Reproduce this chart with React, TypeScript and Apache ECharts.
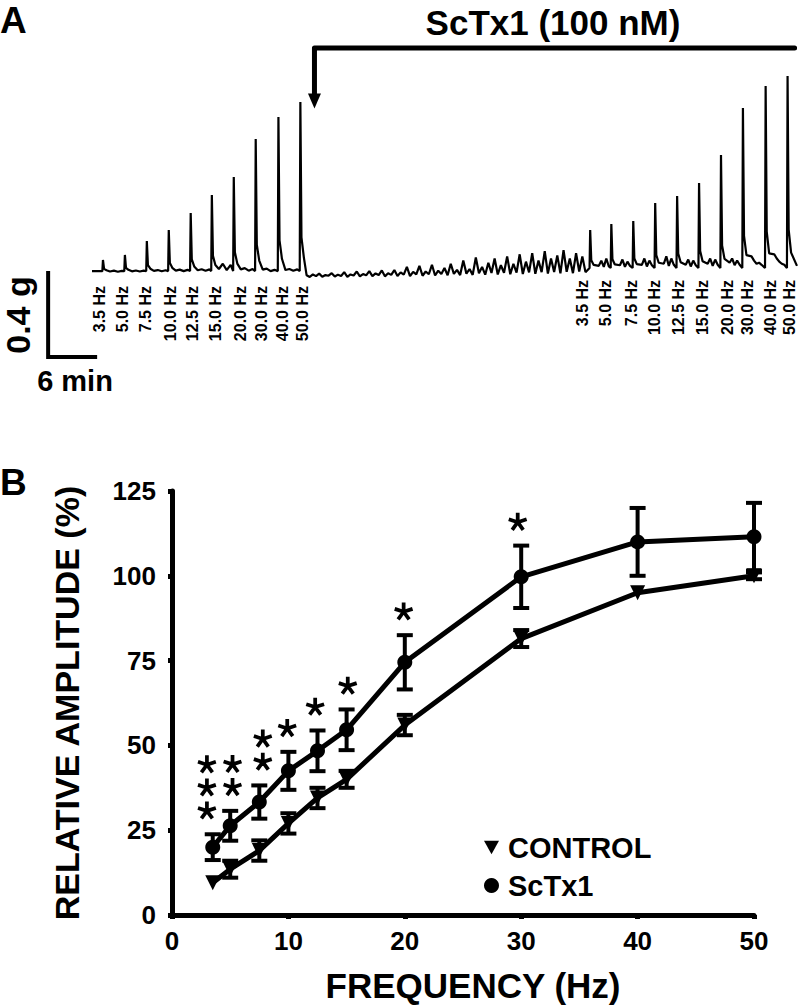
import React, { useEffect, useRef } from 'react';
import * as echarts from 'echarts';

const FONT = '"Liberation Sans", Arial, Helvetica, sans-serif';

// ---------- Panel B data ----------
const frequencies = [3.5, 5, 7.5, 10, 12.5, 15, 20, 30, 40, 50];
const controlMean = [9.5, 13.5, 19, 27, 34.5, 40, 56, 81.5, 95, 100];
const controlErr = [0, 2.5, 3, 3, 3, 2.5, 3, 2.5, 0, 1];
const sctxMean = [20, 26.3, 33.3, 42.5, 48.4, 54.6, 74.5, 99.7, 110, 111.5];
const sctxErr = [3.8, 4.4, 4.9, 5.6, 6, 6, 8, 9.2, 10, 10];
const starCounts = [3, 2, 2, 1, 1, 1, 1, 1, 0, 0];
const starHz = [3.0, 5.2, 7.8, 9.9, 12.3, 15.1, 19.9, 29.7, 40, 50];

// ---------- Panel A data (trace, minutes vs grams) ----------
const hzLabels = ['3.5 Hz', '5.0 Hz', '7.5 Hz', '10.0 Hz', '12.5 Hz', '15.0 Hz', '20.0 Hz', '30.0 Hz', '40.0 Hz', '50.0 Hz'];
const controlSpikeMin = [1.4, 4.2, 7.0, 9.8, 12.6, 15.3, 18.1, 20.9, 23.8, 26.6];
const controlSpikePeakG = [0.143, 0.167, 0.233, 0.286, 0.367, 0.452, 0.538, 0.719, 0.824, 0.895];
const toxinSpikeMin = [63.6, 66.3, 69.1, 71.9, 74.7, 77.5, 80.3, 83.1, 86.0, 88.8];
const toxinSpikePeakG = [0.286, 0.314, 0.329, 0.414, 0.448, 0.51, 0.643, 0.867, 0.971, 1.019];
const leftLabelMin = [1.02, 3.9, 6.89, 9.96, 12.89, 15.83, 18.9, 21.6, 24.38, 26.93];
const rightLabelMin = [62.6, 65.6, 68.9, 71.8, 74.9, 78.0, 81.1, 83.7, 86.6, 89.1];
const leftLabelTopG = 0.019;
const rightLabelTopG = 0.048;
const controlBaseG = 0.09;
const toxinBaseG = 0.105;
const leftNoiseG = [
  0.088, 0.092, 0.087, 0.091,
  0.089, 0.093, 0.088, 0.092,
  0.091, 0.095, 0.089, 0.094,
  0.092, 0.097, 0.09, 0.096,
  0.094, 0.099, 0.092, 0.098,
  0.1, 0.125, 0.095, 0.12,
  0.098, 0.104, 0.092, 0.1,
  0.097, 0.102, 0.09, 0.096,
  0.095, 0.1, 0.092, 0.098,
];
const washNoiseG = [
  0.07, 0.062, 0.074, 0.066, 0.078, 0.063, 0.071, 0.068, 0.08, 0.064,
  0.073, 0.067, 0.085, 0.063, 0.074, 0.069, 0.088, 0.065, 0.076, 0.07,
  0.09, 0.066, 0.079, 0.071, 0.093, 0.065, 0.08, 0.072, 0.095, 0.067,
  0.084, 0.073, 0.11, 0.066, 0.086, 0.074, 0.115, 0.068, 0.088, 0.075,
  0.12, 0.069, 0.092, 0.076, 0.105, 0.07, 0.125, 0.077, 0.096, 0.071,
  0.14, 0.078, 0.1, 0.072, 0.155, 0.08, 0.11, 0.073, 0.13, 0.081,
  0.15, 0.074, 0.118, 0.082, 0.16, 0.075, 0.125, 0.083, 0.17, 0.076,
  0.135, 0.084, 0.175, 0.077, 0.14, 0.085, 0.185, 0.078, 0.15, 0.086,
  0.165, 0.079, 0.19, 0.087, 0.15, 0.08, 0.175, 0.088, 0.16, 0.085,
];
const rightNoiseG = [
  0.115, 0.14, 0.11, 0.15, 0.112,
  0.118, 0.145, 0.11, 0.135, 0.115,
  0.12, 0.15, 0.112, 0.14, 0.118,
  0.125, 0.16, 0.115, 0.15, 0.12,
  0.12, 0.145, 0.112, 0.14, 0.118,
  0.125, 0.15, 0.115, 0.145, 0.12,
  0.13, 0.15, 0.118, 0.14, 0.12,
  0.16, 0.14, 0.125, 0.13, 0.12,
  0.17, 0.15, 0.135, 0.125, 0.12,
];
const traceEndMin = 90;
const washStartMin = 27.4;
const washStepMin = 0.4;
const drugOnsetMin = 28.4;
const drugEndMin = 89.7;
const bracketG = 1.152;
const arrowBaseG = 0.935;
const arrowCenterG = 0.9;
const scaleBarMin = 6;
const scaleBarG = 0.4;
const scaleOrigin = [-5.6, -0.319];

function addSpike(pts: number[][], t: number, b: number, p: number) {
  pts.push([t - 0.08, b]);
  pts.push([t, p]);
  pts.push([t + 0.14, b + (p - b) * 0.2]);
  pts.push([t + 0.45, b + (p - b) * 0.08]);
}

function buildTrace() {
  const pts: number[][] = [[0, controlBaseG]];
  controlSpikeMin.forEach((t, k) => {
    addSpike(pts, t, controlBaseG, controlSpikePeakG[k]);
    if (k < controlSpikeMin.length - 1) {
      for (let j = 0; j < 4; j++) pts.push([t + 0.9 + j * 0.5, leftNoiseG[k * 4 + j]]);
    }
  });
  washNoiseG.forEach((v, i) => pts.push([washStartMin + i * washStepMin, v]));
  toxinSpikeMin.forEach((t, k) => {
    addSpike(pts, t, toxinBaseG, toxinSpikePeakG[k]);
    if (k < toxinSpikeMin.length - 1) {
      for (let j = 0; j < 5; j++) pts.push([t + 1.1 + j * 0.32, rightNoiseG[k * 5 + j]]);
    }
  });
  pts.push([traceEndMin, toxinBaseG + 0.01]);
  return pts;
}

function asteriskPath() {
  const w = 0.2;
  let d = '';
  for (let k = 0; k < 5; k++) {
    const a = -Math.PI / 2 + (k * 2 * Math.PI) / 5;
    const ux = Math.cos(a);
    const uy = Math.sin(a);
    const px = -uy;
    const py = ux;
    const pts = [
      [px * w, py * w],
      [px * w + ux, py * w + uy],
      [-px * w + ux, -py * w + uy],
      [-px * w, -py * w],
    ];
    d += pts
      .map((p, i) => (i === 0 ? 'M' : 'L') + ((p[0] + 1) * 50).toFixed(2) + ' ' + ((p[1] + 1) * 50).toFixed(2))
      .join(' ') + ' Z ';
  }
  return 'path://' + d;
}

export default function App() {
  const ref = useRef<HTMLDivElement>(null);

  useEffect(() => {
    if (!ref.current) return;
    const chart = echarts.init(ref.current, undefined, { renderer: 'svg' });

    const starData: number[][] = [];
    frequencies.forEach((f, i) => {
      for (let k = 0; k < starCounts[i]; k++) {
        starData.push([starHz[i], sctxMean[i] + sctxErr[i] + 7 + 6.8 * k]);
      }
    });

    const errData = frequencies
      .map((f, i) => [f, controlMean[i] - controlErr[i], controlMean[i] + controlErr[i]])
      .concat(frequencies.map((f, i) => [f, sctxMean[i] - sctxErr[i], sctxMean[i] + sctxErr[i]]));

    const bold = { fontFamily: FONT, fontWeight: 'bold' as const, color: '#000' };

    const option: any = {
      animation: false,
      backgroundColor: '#fff',
      grid: [
        { left: 172, right: 46, top: 491, height: 424 },
        { left: 37.17, width: 759.8, top: 38, height: 336 },
      ],
      xAxis: [
        {
          gridIndex: 0,
          type: 'value',
          min: 0,
          max: 50,
          interval: 10,
          axisLine: { lineStyle: { color: '#000', width: 5, cap: 'round' } },
          axisTick: { show: true, length: 4, lineStyle: { color: '#000', width: 5 } },
          axisLabel: { ...bold, fontSize: 26, margin: 13 },
          splitLine: { show: false },
          name: 'FREQUENCY (Hz)',
          nameLocation: 'middle',
          nameGap: 53,
          nameTextStyle: { ...bold, fontSize: 35, padding: [0, 0, 0, 20] },
        },
        { gridIndex: 1, type: 'value', min: -7, max: 90, show: false },
      ],
      yAxis: [
        {
          gridIndex: 0,
          type: 'value',
          min: 0,
          max: 125,
          interval: 25,
          axisLine: { show: true, lineStyle: { color: '#000', width: 5, cap: 'round' } },
          axisTick: { show: true, length: 4, lineStyle: { color: '#000', width: 5 } },
          axisLabel: { ...bold, fontSize: 26, margin: 16 },
          splitLine: { show: false },
          name: 'RELATIVE AMPLITUDE (%)',
          nameLocation: 'middle',
          nameGap: 88,
          nameTextStyle: { ...bold, fontSize: 34 },
        },
        { gridIndex: 1, type: 'value', min: -0.4, max: 1.2, show: false },
      ],
      legend: {
        orient: 'vertical',
        left: 479,
        top: 828,
        itemWidth: 15,
        itemHeight: 15,
        itemGap: 9,
        selectedMode: false,
        textStyle: { ...bold, fontSize: 29, padding: [0, 0, 0, 4] },
        data: [
          { name: 'CONTROL', icon: 'path://M0 0 L10 0 L5 9 Z' },
          { name: 'ScTx1', icon: 'circle' },
        ],
      },
      graphic: [
        { type: 'text', left: 0, top: 2, style: { text: 'A', font: `bold 37px ${FONT}`, fill: '#000' } },
        { type: 'text', left: 0, top: 464, style: { text: 'B', font: `bold 37px ${FONT}`, fill: '#000' } },
        {
          type: 'text',
          x: 553,
          y: 22,
          style: { text: 'ScTx1 (100 nM)', font: `bold 35px ${FONT}`, fill: '#000', align: 'center', verticalAlign: 'middle' },
        },
        {
          type: 'text',
          x: 18,
          y: 315,
          rotation: Math.PI / 2,
          style: { text: '0.4 g', font: `bold 34px ${FONT}`, fill: '#000', align: 'center', verticalAlign: 'middle' },
        },
        {
          type: 'text',
          x: 75,
          y: 381,
          style: { text: '6 min', font: `bold 29px ${FONT}`, fill: '#000', align: 'center', verticalAlign: 'middle' },
        },
      ],
      series: [
        // Panel B
        {
          type: 'custom',
          xAxisIndex: 0,
          yAxisIndex: 0,
          data: errData,
          encode: { x: 0, y: [1, 2] },
          z: 3,
          silent: true,
          renderItem: (params: any, api: any) => {
            const x = api.value(0);
            if (api.value(2) - api.value(1) <= 0) return null;
            const lo = api.coord([x, api.value(1)]);
            const hi = api.coord([x, api.value(2)]);
            const hw = 8;
            const st = { stroke: '#000', lineWidth: 4 };
            return {
              type: 'group',
              children: [
                { type: 'line', shape: { x1: lo[0], y1: lo[1], x2: hi[0], y2: hi[1] }, style: st },
                { type: 'line', shape: { x1: lo[0] - hw, y1: lo[1], x2: lo[0] + hw, y2: lo[1] }, style: st },
                { type: 'line', shape: { x1: hi[0] - hw, y1: hi[1], x2: hi[0] + hw, y2: hi[1] }, style: st },
              ],
            };
          },
        },
        {
          name: 'CONTROL',
          type: 'line',
          xAxisIndex: 0,
          yAxisIndex: 0,
          data: frequencies.map((f, i) => [f, controlMean[i]]),
          symbol: 'triangle',
          symbolRotate: 180,
          symbolSize: 15,
          color: '#000',
          itemStyle: { color: '#000', opacity: 1 },
          lineStyle: { color: '#000', width: 5 },
          z: 4,
        },
        {
          name: 'ScTx1',
          type: 'line',
          xAxisIndex: 0,
          yAxisIndex: 0,
          data: frequencies.map((f, i) => [f, sctxMean[i]]),
          symbol: 'circle',
          symbolSize: 15,
          color: '#000',
          itemStyle: { color: '#000', opacity: 1 },
          lineStyle: { color: '#000', width: 5 },
          z: 4,
        },
        {
          type: 'scatter',
          xAxisIndex: 0,
          yAxisIndex: 0,
          data: starData,
          symbol: asteriskPath(),
          symbolSize: 19,
          symbolKeepAspect: true,
          itemStyle: { color: '#000', opacity: 1 },
          silent: true,
        },
        // Panel A trace
        {
          type: 'line',
          xAxisIndex: 1,
          yAxisIndex: 1,
          data: buildTrace(),
          symbol: 'none',
          lineStyle: { color: '#000', width: 2.2 },
          silent: true,
        },
        // Scale bar
        {
          type: 'line',
          xAxisIndex: 1,
          yAxisIndex: 1,
          data: [
            [scaleOrigin[0], scaleOrigin[1] + scaleBarG],
            [scaleOrigin[0], scaleOrigin[1]],
            [scaleOrigin[0] + scaleBarMin, scaleOrigin[1]],
          ],
          symbol: 'none',
          lineStyle: { color: '#000', width: 4, cap: 'square', join: 'miter' },
          silent: true,
        },
        // Drug bracket
        {
          type: 'line',
          xAxisIndex: 1,
          yAxisIndex: 1,
          data: [
            [drugEndMin, bracketG],
            [drugOnsetMin, bracketG],
            [drugOnsetMin, arrowBaseG],
          ],
          symbol: 'none',
          lineStyle: { color: '#000', width: 5, cap: 'round', join: 'round' },
          silent: true,
        },
        {
          type: 'scatter',
          xAxisIndex: 1,
          yAxisIndex: 1,
          data: [[drugOnsetMin, arrowCenterG]],
          symbol: 'triangle',
          symbolRotate: 180,
          symbolSize: [13, 15],
          itemStyle: { color: '#000', opacity: 1 },
          silent: true,
        },
        // Frequency labels
        {
          type: 'scatter',
          xAxisIndex: 1,
          yAxisIndex: 1,
          data: leftLabelMin.map((t) => [t, leftLabelTopG]).concat(rightLabelMin.map((t) => [t, rightLabelTopG])),
          symbolSize: 0,
          itemStyle: { opacity: 1 },
          silent: true,
          label: {
            show: true,
            position: 'inside',
            rotate: 90,
            align: 'right',
            verticalAlign: 'middle',
            formatter: (p: any) => hzLabels[p.dataIndex % hzLabels.length],
            ...bold,
            fontSize: 16,
          },
        },
      ],
    };

    chart.setOption(option);
    return () => chart.dispose();
  }, []);

  return (
    <div
      ref={ref}
      style={{ position: 'absolute', left: 0, top: 0, width: 800, height: 1008, background: '#fff' }}
    />
  );
}
